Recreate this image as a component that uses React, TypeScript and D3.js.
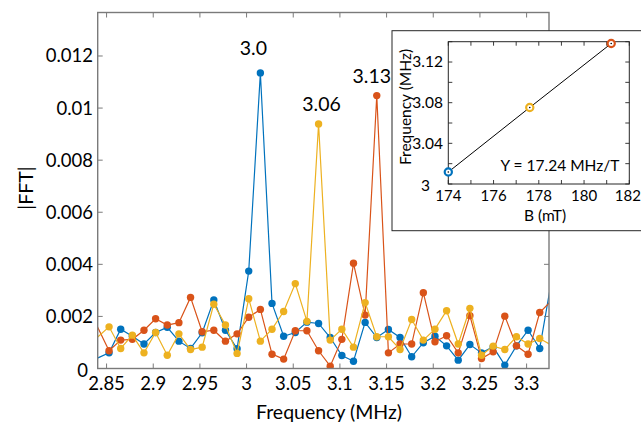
import React from "react";
import * as d3 from "d3";

// FFT bin grid (evenly spaced bins, first one just outside the axis)
const BIN_START = 2.8402;
const BIN_STEP = 0.01247;

const blueFFT = [0.0004, 0.0006, 0.00151, 0.00124, 0.00094, 0.00138, 0.00158, 0.00105, 0.00077, 0.00137, 0.00263, 0.00147, 0.00076, 0.00374, 0.01135, 0.0025, 0.00124, 0.00138, 0.00178, 0.00173, 0.00119, 0.0005, 0.00028, 0.00177, 0.00119, 0.0015, 0.00119, 0.00045, 0.00099, 0.00124, 0.00087, 0.00032, 0.00092, 0.0006, 0.00083, 0.00013, 0.00087, 0.00147, 0.00077, 0.00335];
const redFFT = [0.0016, 0.00068, 0.00109, 0.00112, 0.00147, 0.00191, 0.00167, 0.00176, 0.00273, 0.00141, 0.00147, 0.00105, 0.00133, 0.00197, 0.00227, 0.00055, 0.00036, 0.00145, 0.00145, 0.00068, 0.00009, 0.00112, 0.00404, 0.00205, 0.01048, 0.0006, 0.00094, 0.00094, 0.00291, 0.00103, 0.00126, 0.0006, 0.00203, 0.00038, 0.00064, 0.00201, 0.00087, 0.00055, 0.00215, 0.0026];
const yellowFFT = [0.0012, 0.0016, 0.00077, 0.00128, 0.0006, 0.00138, 0.00051, 0.00133, 0.00073, 0.00082, 0.00247, 0.00167, 0.00058, 0.00268, 0.00105, 0.00151, 0.00219, 0.00326, 0.00181, 0.00939, 0.00109, 0.00151, 0.00082, 0.00253, 0.00122, 0.00122, 0.00073, 0.00188, 0.00109, 0.00151, 0.00222, 0.00094, 0.00231, 0.00051, 0.00086, 0.00073, 0.00122, 0.00094, 0.00115, 0.0009];

const xTicks = [2.85, 2.9, 2.95, 3.0, 3.05, 3.1, 3.15, 3.2, 3.25, 3.3];
const xTickLabels = ["2.85", "2.9", "2.95", "3", "3.05", "3.1", "3.15", "3.2", "3.25", "3.3"];
const yTicks = [0, 0.002, 0.004, 0.006, 0.008, 0.01, 0.012];
const yTickLabels = ["0", "0.002", "0.004", "0.006", "0.008", "0.01", "0.012"];

// peak annotations: label, series index, bin index
const peakLabels = ["3.0", "3.06", "3.13"];
const peakSeries = [0, 2, 1];
const peakIndex = [14, 19, 24];

// inset: B field vs peak frequency (blue, yellow, red)
const insetB = [174, 177.6, 181.2];
const insetF = [3.0118, 3.0753, 3.1382];
const insetXTicks = [174, 175, 176, 177, 178, 179, 180, 181, 182];
const insetXLabels = ["174", "", "176", "", "178", "", "180", "", "182"];
const insetYTicks = [3, 3.02, 3.04, 3.06, 3.08, 3.1, 3.12, 3.14];
const insetYLabels = ["3", "", "3.04", "", "3.08", "", "3.12", ""];

const BLUE = "#0072BD";
const RED = "#D95319";
const YELLOW = "#EDB120";
const SERIES_COLORS = [BLUE, RED, YELLOW];
const INSET_COLORS = [BLUE, YELLOW, RED];
const FONT = "Lato, 'Open Sans', sans-serif";

export default function App() {
  const series = [blueFFT, redFFT, yellowFFT];
  const freqs = blueFFT.map((_, i) => BIN_START + BIN_STEP * i);

  const L = 97.7, R = 549, T = 12.5, B = 368.5;
  const x = d3.scaleLinear().domain([2.8405, 3.324]).range([L, R]);
  const y = d3.scaleLinear().domain([0, 0.01367]).range([B, T]);
  const line = d3
    .line<number>()
    .x((_, i) => x(freqs[i]))
    .y((d) => y(d));

  const axisColor = "#7a7a7a";
  const tick = 5;

  // inset scales
  const iL = 448.3, iR = 629.3, iT = 41.7, iB = 184;
  const ix = d3.scaleLinear().domain([174, 182]).range([iL, iR]);
  const iy = d3.scaleLinear().domain([3, 3.14]).range([iB, iT]);
  const iline = d3
    .line<number>()
    .x((d) => ix(d))
    .y((_, i) => iy(insetF[i]));
  const inkColor = "#262626";
  const itick = 4;

  const peakDx = [-7, 3, -5];
  const peakDy = [-17.5, -12.5, -12.5];

  return (
    <svg
      width={641}
      height={422}
      style={{ position: "absolute", left: 0, top: 0, background: "#fff" }}
      fontFamily={FONT}
    >
      <defs>
        <clipPath id="mainclip">
          <rect x={L} y={T} width={R - L} height={B - T} />
        </clipPath>
      </defs>
      <rect x={0} y={0} width={641} height={422} fill="#fff" />

      {/* data */}
      <g clipPath="url(#mainclip)">
        {series.map((s, si) => (
          <g key={si}>
            <path d={line(s) || ""} fill="none" stroke={SERIES_COLORS[si]} strokeWidth={1.2} />
            {s.map((v, i) =>
              freqs[i] >= x.domain()[0] && freqs[i] <= x.domain()[1] ? (
                <circle key={i} cx={x(freqs[i])} cy={y(v)} r={3.7} fill={SERIES_COLORS[si]} />
              ) : null
            )}
          </g>
        ))}
      </g>

      {/* main axes box */}
      <rect x={L} y={T} width={R - L} height={B - T} fill="none" stroke={axisColor} strokeWidth={1.4} />
      {xTicks.map((t, i) => (
        <g key={"xt" + i}>
          <line x1={x(t)} x2={x(t)} y1={B} y2={B - tick} stroke={axisColor} strokeWidth={1} />
          <line x1={x(t)} x2={x(t)} y1={T} y2={T + tick} stroke={axisColor} strokeWidth={1} />
          <text x={x(t)} y={390} fontSize={18.5} textAnchor="middle" fill="#000">
            {xTickLabels[i]}
          </text>
        </g>
      ))}
      {yTicks.map((t, i) => (
        <g key={"yt" + i}>
          <line x1={L} x2={L + tick} y1={y(t)} y2={y(t)} stroke={axisColor} strokeWidth={1} />
          <line x1={R} x2={R - tick} y1={y(t)} y2={y(t)} stroke={axisColor} strokeWidth={1} />
          <text
            x={i === 0 ? 88 : 93}
            y={y(t) + (i === 0 ? 2 : 0)}
            dy="0.35em"
            fontSize={18.5}
            textAnchor="end"
            fill="#000"
          >
            {yTickLabels[i]}
          </text>
        </g>
      ))}
      <text x={329} y={419} fontSize={19.5} textAnchor="middle" fill="#000">
        Frequency (MHz)
      </text>
      <text transform="translate(33,188) rotate(-90)" fontSize={19.5} textAnchor="middle" fill="#000">
        |FFT|
      </text>

      {/* peak labels */}
      {peakIndex.map((k, i) => (
        <text
          key={"pk" + i}
          x={x(freqs[k]) + peakDx[i]}
          y={y(series[peakSeries[i]][k]) + peakDy[i]}
          fontSize={19.5}
          textAnchor="middle"
          fill="#000"
        >
          {peakLabels[i]}
        </text>
      ))}

      {/* inset */}
      <rect x={392} y={30.7} width={300} height={200} fill="#fff" stroke={inkColor} strokeWidth={1} />
      <rect x={iL} y={iT} width={iR - iL} height={iB - iT} fill="none" stroke={inkColor} strokeWidth={1} />
      {insetXTicks.map((t, i) => (
        <g key={"ixt" + i}>
          <line x1={ix(t)} x2={ix(t)} y1={iB} y2={iB - itick} stroke={inkColor} strokeWidth={0.9} />
          <line x1={ix(t)} x2={ix(t)} y1={iT} y2={iT + itick} stroke={inkColor} strokeWidth={0.9} />
          {insetXLabels[i] && (
            <text x={ix(t) - (i === 8 ? 1.5 : 0)} y={200.5} fontSize={15} textAnchor="middle" fill="#000">
              {insetXLabels[i]}
            </text>
          )}
        </g>
      ))}
      {insetYTicks.map((t, i) => (
        <g key={"iyt" + i}>
          <line x1={iL} x2={iL + itick} y1={iy(t)} y2={iy(t)} stroke={inkColor} strokeWidth={0.9} />
          <line x1={iR} x2={iR - itick} y1={iy(t)} y2={iy(t)} stroke={inkColor} strokeWidth={0.9} />
          {insetYLabels[i] && (
            <text
              x={i === 0 ? 430 : 443}
              y={iy(t) + (i === 0 ? 2 : 0)}
              dy="0.35em"
              fontSize={15.5}
              textAnchor="end"
              fill="#000"
            >
              {insetYLabels[i]}
            </text>
          )}
        </g>
      ))}
      <text x={545} y={220.5} fontSize={15.5} textAnchor="middle" fill="#000">
        B (mT)
      </text>
      <text transform="translate(411,107) rotate(-90)" fontSize={15.5} textAnchor="middle" fill="#000">
        Frequency (MHz)
      </text>
      <text x={560} y={170.5} fontSize={15.5} textAnchor="middle" fill="#000">
        Y = 17.24 MHz/T
      </text>
      <path d={iline(insetB) || ""} fill="none" stroke="#000" strokeWidth={1} />
      {insetB.map((b, i) => (
        <g key={"ip" + i}>
          <circle cx={ix(b)} cy={iy(insetF[i])} r={3.6} fill="#fff" stroke={INSET_COLORS[i]} strokeWidth={2.2} />
          <circle cx={ix(b)} cy={iy(insetF[i])} r={0.8} fill="#000" />
        </g>
      ))}
    </svg>
  );
}
